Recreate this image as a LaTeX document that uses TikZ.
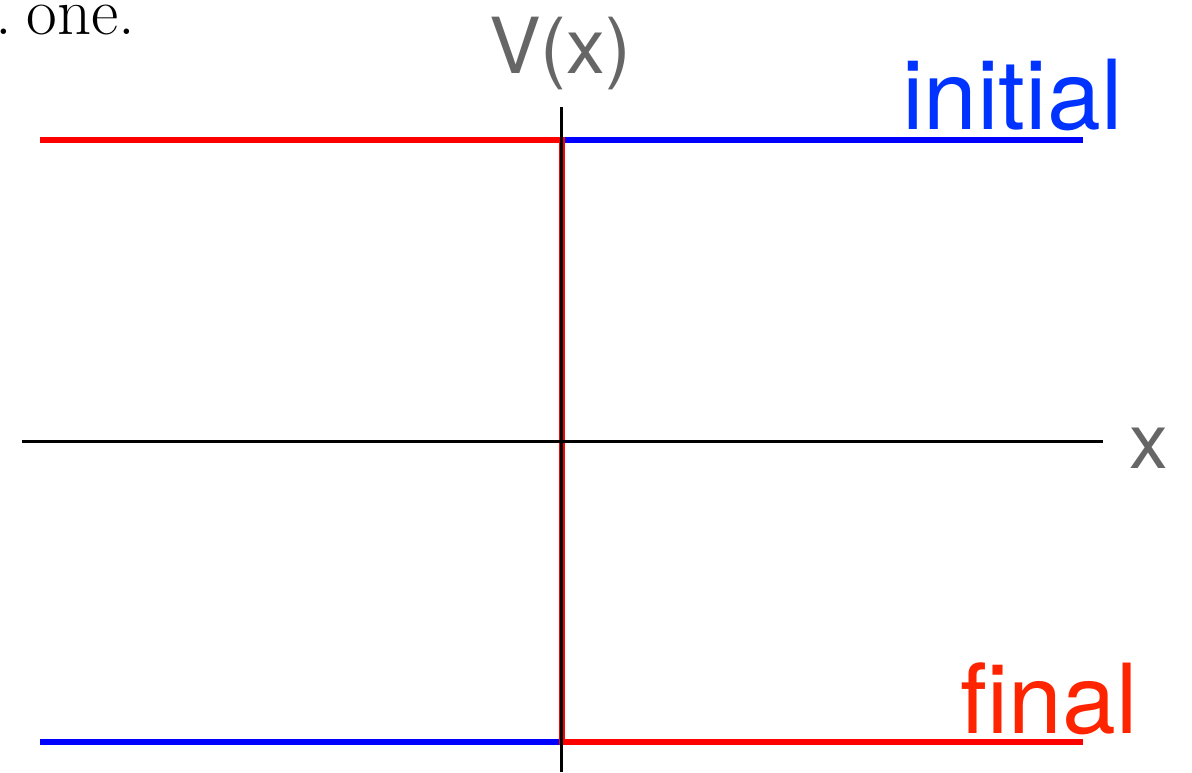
\documentclass[tikz,border=0pt]{standalone}
\usepackage{fontspec}
\newfontfamily\labelfont{TeX Gyre Heros}
\usepackage{tikz}
\usetikzlibrary{positioning}

\definecolor{textgray}{RGB}{102,102,102}
\definecolor{initblue}{RGB}{0,51,255}
\definecolor{finalred}{RGB}{255,36,0}

\begin{document}
\begin{tikzpicture}[
    x=0.02cm, y=-0.02cm,
    axis/.style={
        draw=black,
        line width=1.7pt
    },
    level/.style={
        line width=3.9pt,
        line join=miter
    },
    axlabel/.style={
        font=\labelfont\fontsize{44}{48}\selectfont,
        text=textgray,
        inner sep=0pt
    },
    curvelabel/.style={
        font=\labelfont\fontsize{55}{60}\selectfont,
        inner sep=0pt,
        anchor=base west
    }
]

% ---------------------------------------------------------
% Canvas
% ---------------------------------------------------------
\path[use as bounding box] (0,0) rectangle (1192,772);

\node[font=\rmfamily\fontsize{38}{42}\selectfont, inner sep=0pt,
    anchor=base west] (prev) at (-5,34) {.\hspace{0.22em}one.};

% ---------------------------------------------------------
% Step potentials
% ---------------------------------------------------------
\coordinate (tl) at (40,140);
\coordinate (tr) at (1083,140);
\coordinate (bl) at (40,742);
\coordinate (br) at (1083,742);
\coordinate (bstep) at (562,742);
\coordinate (tstep) at (562,140);

\draw[level, blue] (bl) -- (bstep) -- (tstep) -- (tr);
\draw[level, red] (tl) -- (tstep) -- (bstep) -- (br);

% ---------------------------------------------------------
% Axes
% ---------------------------------------------------------
\coordinate (xmin) at (22,441);
\coordinate (xmax) at (1103,441);
\coordinate (vtop) at (561.5,107);
\coordinate (vbot) at (561.5,772);

\draw[axis] (xmin) -- (xmax);
\draw[axis] (vtop) -- (vbot);

\node[axlabel, anchor=base] (vlab) at (560,73) {V(x)};
\node[axlabel, anchor=base west] (xlab) at (1129,468) {x};

% ---------------------------------------------------------
% Curve labels
% ---------------------------------------------------------
\node[curvelabel, text=initblue] (initial) at (902,129) {initial};
\node[curvelabel, text=finalred] (final) at (960,733) {final};

\end{tikzpicture}
\end{document}
